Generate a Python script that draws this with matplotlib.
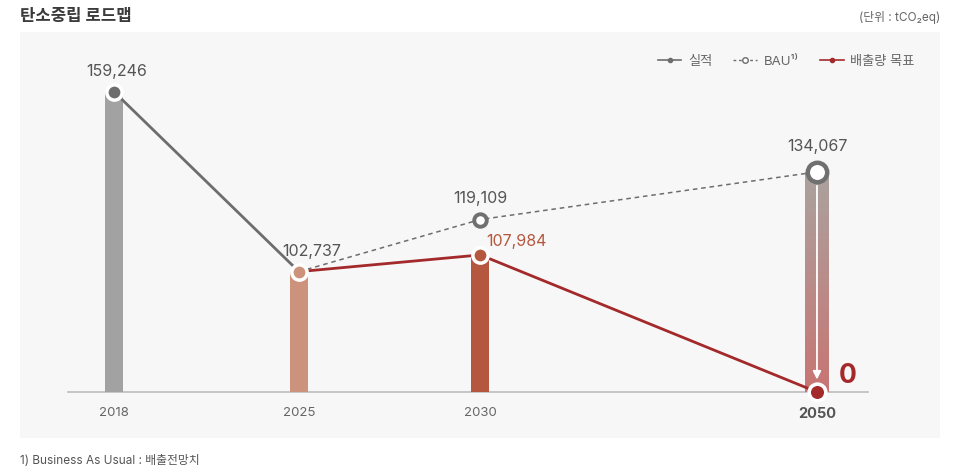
import numpy as np
import matplotlib
matplotlib.use('Agg')
import matplotlib.pyplot as plt
from matplotlib.lines import Line2D
from matplotlib.colors import LinearSegmentedColormap

plt.rcParams['font.family'] = ['Inter', 'Noto Sans CJK KR', 'DejaVu Sans']

# data
years = ['2018', '2025', '2030', '2050']
xpos = [0, 1, 1.98, 3.8]            # category slots (uneven spacing as in the original)
actual = [159246, 102737]           # 실적 (2018, 2025)
bau = [102737, 119109, 134067]      # BAU (2025, 2030, 2050)
target = [102737, 107984, 0]        # 배출량 목표 (2025, 2030, 2050)

# the original is a broken axis: everything below ~65k is squeezed into the baseline
Y_BREAK = 65000
def fwd(v):
    v = np.asarray(v, dtype=float)
    return np.where(v >= Y_BREAK, v - Y_BREAK, (v - Y_BREAK) * 0.001)
def inv(u):
    u = np.asarray(u, dtype=float)
    return np.where(u >= 0, u + Y_BREAK, u / 0.001 + Y_BREAK)

W, H = 957, 475
fig = plt.figure(figsize=(W / 100, H / 100), dpi=100)
fig.set_facecolor('white')

# grey panel
fig.patches.append(plt.Rectangle((20 / W, (H - 438) / H), 920 / W, 406 / H,
                                 transform=fig.transFigure, facecolor='#f7f7f7',
                                 edgecolor='none', zorder=-5))

ax = fig.add_axes([20 / W, (H - 392) / H, 920 / W, 360 / H])
ax.set_facecolor('none')
ax.set_yscale('function', functions=(fwd, inv))
ax.set_xlim(-0.508, 4.465)
ax.set_ylim(0, 178000)
for s in ax.spines.values():
    s.set_visible(False)
ax.set_xticks([])
ax.set_yticks([])
ax.minorticks_off()

# baseline
ax.plot([-0.249, 4.076], [0, 0], color='#bdbdbd', lw=1.2, zorder=1, clip_on=False)

# bars
bw = 0.097
ax.bar(xpos[0], actual[0], width=bw, color='#a2a2a2', zorder=2)
ax.bar(xpos[1], actual[1], width=bw, color='#cd927b', zorder=2)
ax.bar(xpos[2], target[1], width=bw, color='#b5573f', zorder=2)

# 2050 gradient bar (BAU value, grey on top to pink at the bottom)
bw2 = 0.13
cmap = LinearSegmentedColormap.from_list('g', ['#c77573', '#aaa29e'])
ys = inv(np.linspace(fwd(0), fwd(bau[2]), 80))
xs = [xpos[3] - bw2 / 2, xpos[3] + bw2 / 2]
ax.pcolormesh(xs, ys, np.linspace(0, 1, 79).reshape(-1, 1), cmap=cmap,
              shading='flat', zorder=2)

# lines
ax.plot(xpos[:2], actual, color='#6d6d6d', lw=2, zorder=3)
ax.plot(xpos[1:], bau, color='#6d6d6d', lw=1.1, ls=(0, (3, 2.5)), zorder=3)
ax.plot(xpos[1:], target, color='#a3292a', lw=2, zorder=3)

# arrow inside the 2050 bar
ax.annotate('', xy=(xpos[3], target[2]), xytext=(xpos[3], bau[2]),
            arrowprops=dict(arrowstyle='-|>', color='white', lw=1.3,
                            shrinkA=10, shrinkB=9, mutation_scale=12),
            zorder=4)

# markers
ax.plot(xpos[0], actual[0], 'o', ms=11, mfc='#6d6d6d', mec='white', mew=2.5, zorder=5, clip_on=False)
ax.plot(xpos[1], actual[1], 'o', ms=11, mfc='#cd927b', mec='white', mew=2.5, zorder=5)
ax.plot(xpos[2], target[1], 'o', ms=11, mfc='#b5573f', mec='white', mew=2.5, zorder=5)
ax.plot(xpos[2], bau[1], 'o', ms=9, mfc='white', mec='#707070', mew=2.8, zorder=5)
ax.plot(xpos[3], bau[2], 'o', ms=14, mfc='white', mec='#707070', mew=3.2, zorder=5)
ax.plot(xpos[3], target[2], 'o', ms=12, mfc='#a3292a', mec='white', mew=2.6, zorder=5, clip_on=False)

# value labels
lab = dict(fontsize=11.5, color='#555555', ha='center', va='bottom')
ax.annotate(f'{actual[0]:,}', (xpos[0], actual[0]), xytext=(2, 9), textcoords='offset points', **lab)
ax.annotate(f'{actual[1]:,}', (xpos[1], actual[1]), xytext=(9, 9), textcoords='offset points', **lab)
ax.annotate(f'{bau[1]:,}', (xpos[2], bau[1]), xytext=(0, 10), textcoords='offset points', **lab)
ax.annotate(f'{bau[2]:,}', (xpos[3], bau[2]), xytext=(0, 13), textcoords='offset points', **lab)
ax.annotate(f'{target[1]:,}', (xpos[2], target[1]), xytext=(4, 4), textcoords='offset points',
            fontsize=11.5, color='#b5573f', ha='left', va='bottom')
ax.annotate(f'{target[2]:,}', (xpos[3], target[2]), xytext=(16, 2), textcoords='offset points',
            fontsize=19, fontweight='bold', color='#a3292a', ha='left', va='bottom')

# category labels
for i, (x, y) in enumerate(zip(xpos, years)):
    last = i == len(years) - 1
    ax.annotate(y, (x, 0), xytext=(0, -11), textcoords='offset points', ha='center', va='top',
                fontsize=10.5 if last else 9.5, fontweight='bold' if last else 'normal',
                color='#555555' if last else '#666666', annotation_clip=False)

# legend
handles = [
    Line2D([], [], color='#6d6d6d', lw=1.2, marker='o', ms=3),
    Line2D([], [], color='#6d6d6d', lw=1, ls=(0, (2, 2)), marker='o', ms=4, mfc='white'),
    Line2D([], [], color='#a3292a', lw=1.2, marker='o', ms=3),
]
leg = ax.legend(handles, ['실적', 'BAU¹⁾', '배출량 목표'], loc='upper right',
                bbox_to_anchor=(900 / 920, 1 - 18 / 360), ncol=3, frameon=False,
                fontsize=9.5, handlelength=1.8, handletextpad=0.5, columnspacing=1.6,
                borderaxespad=0)
for t in leg.get_texts():
    t.set_color('#666666')

# header / footer
fig.text(20 / W, 1 - 17 / H, '탄소중립 로드맵', fontsize=12, fontweight='bold',
         color='#3a3a3a', ha='left', va='center')
fig.text(940 / W, 1 - 18 / H, '(단위 : tCO₂eq)', fontsize=8.5, color='#666666',
         ha='right', va='center')
fig.text(20 / W, 1 - 461 / H, '1) Business As Usual : 배출전망치', fontsize=8.5,
         color='#555555', ha='left', va='center')

fig.savefig('out.png', dpi=100, facecolor='white')
